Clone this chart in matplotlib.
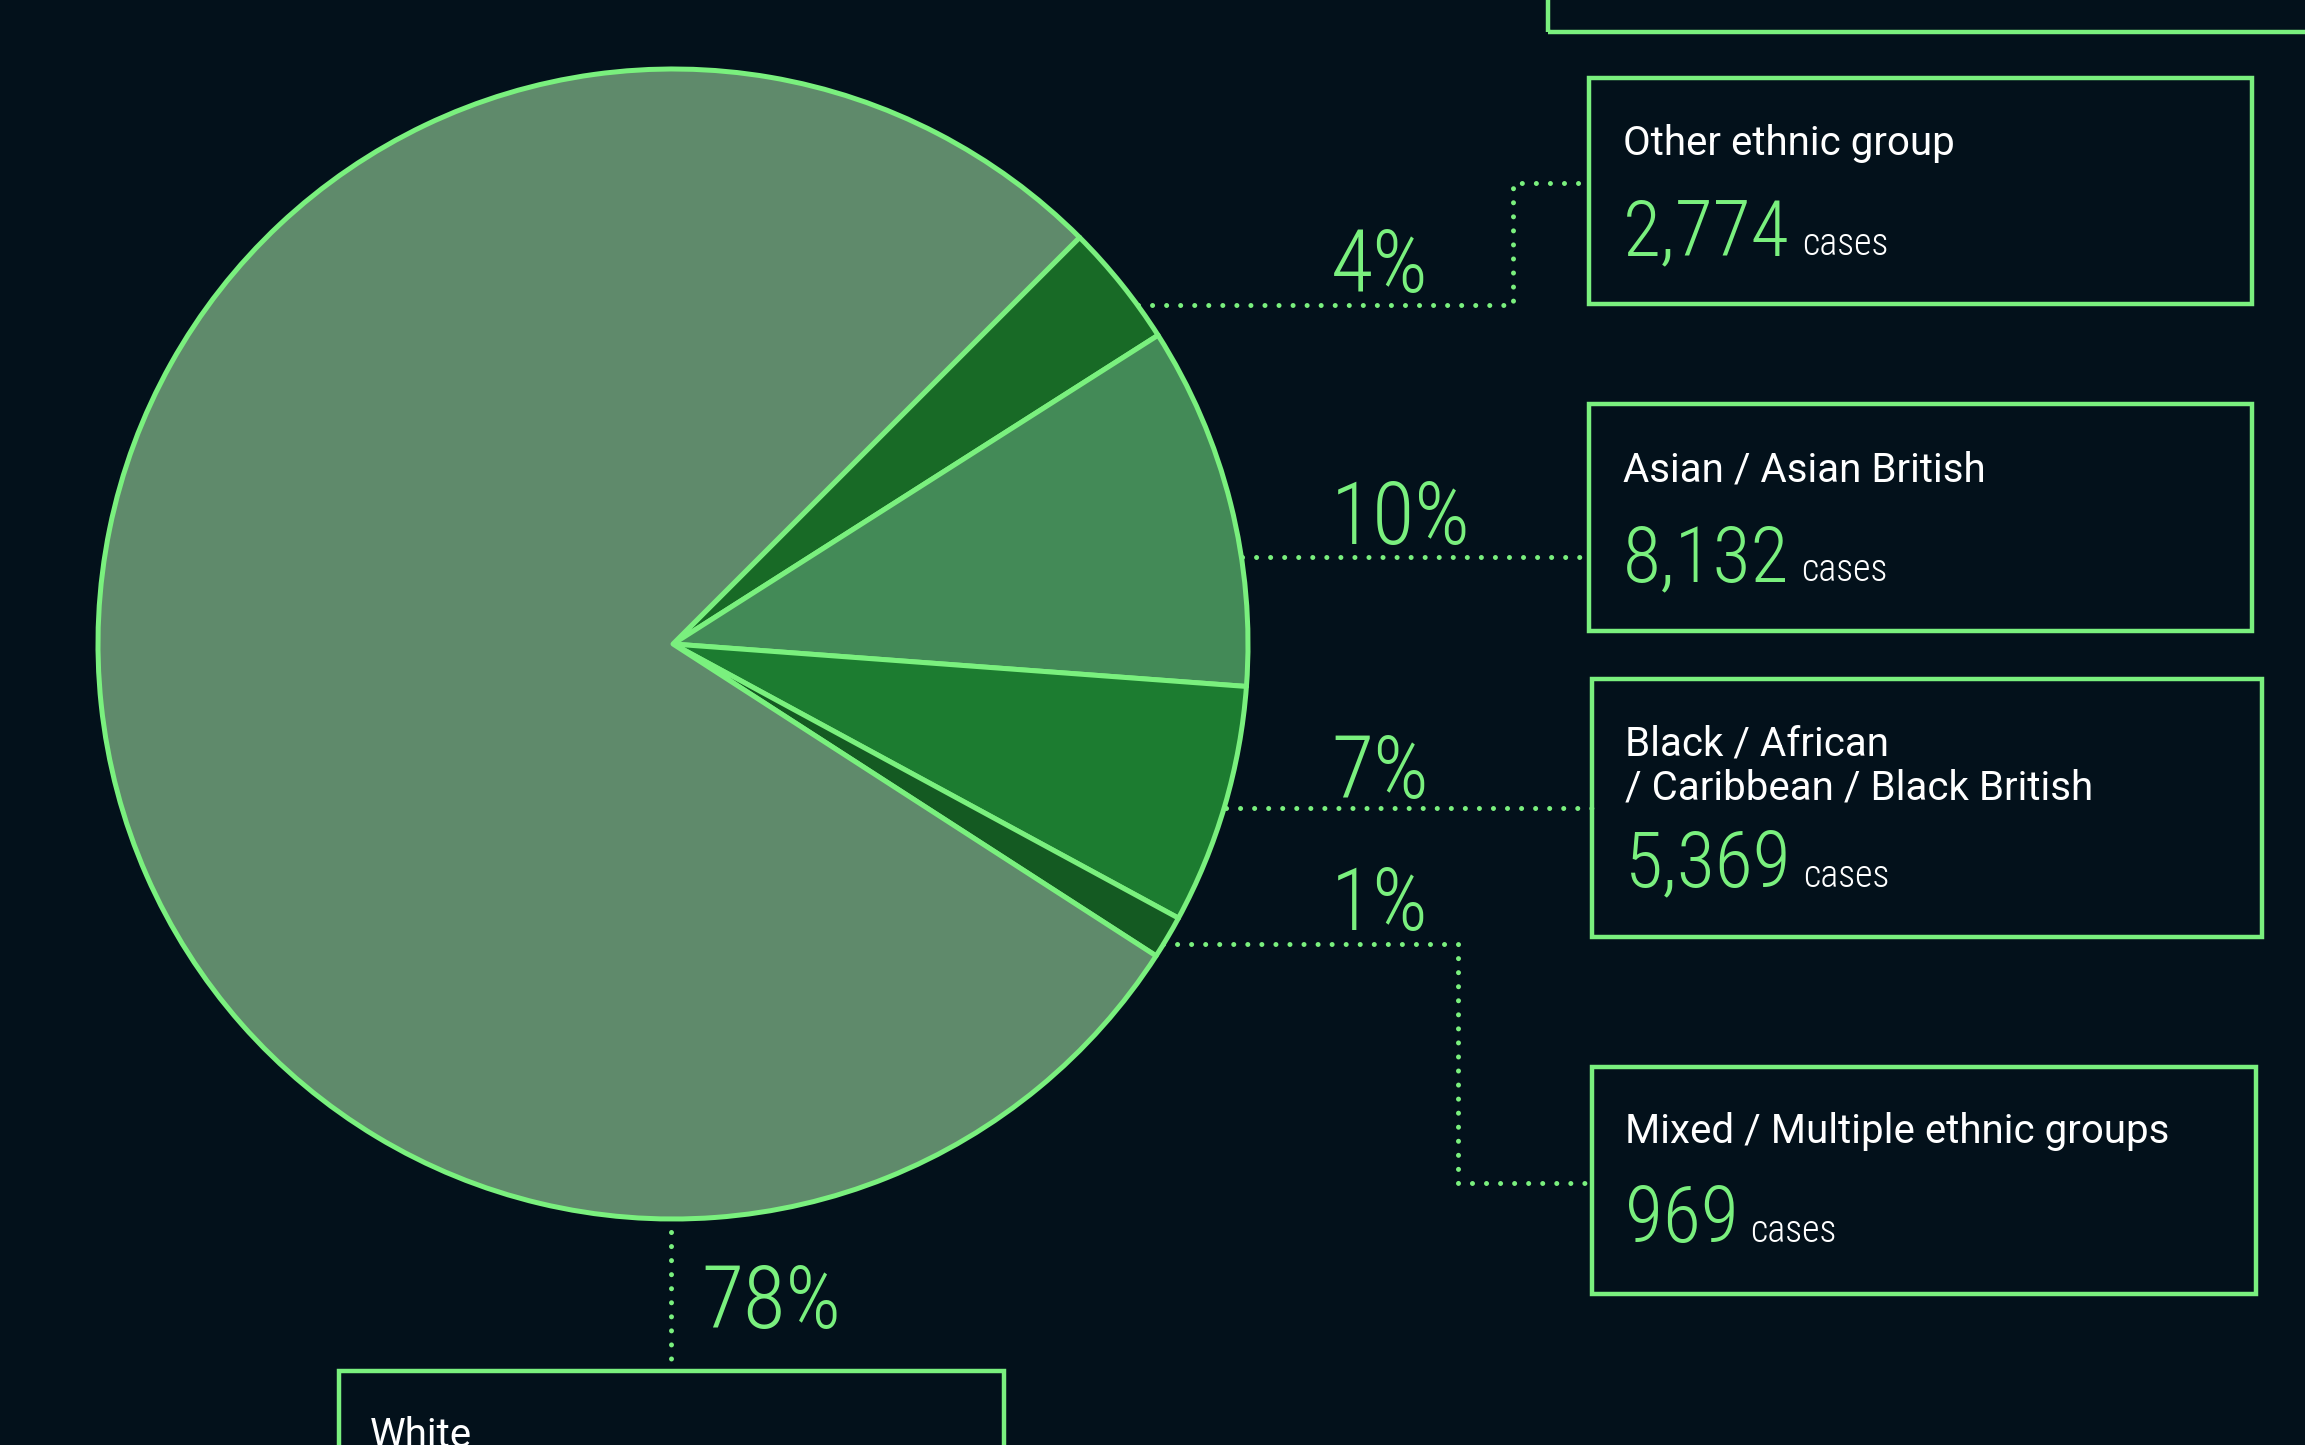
import os
import numpy as np
import matplotlib
matplotlib.use("Agg")
import matplotlib.pyplot as plt
from matplotlib import font_manager as fm
from matplotlib.patches import Rectangle
from matplotlib.textpath import TextPath

W, H = 2305, 1445

# data (clockwise from the top-right)
groups = ["Other ethnic group", "Asian / Asian British",
          "Black / African\n/ Caribbean / Black British",
          "Mixed / Multiple ethnic groups", "White"]
cases = [2774, 8132, 5369, 969, 62500]   # white count is cut off, estimated from the wedge
pct_labels = ["4%", "10%", "7%", "1%", "78%"]
case_labels = ["2,774", "8,132", "5,369", "969"]

bg = "#03111b"
edge = "#7af07e"
wedge_cols = ["#186a26", "#438a57", "#1c7c30", "#145a22", "#5f8a6b"]


def Y(y):
    return H - y


def narrow_font():
    # narrowest light-ish font we can find, else DejaVu condensed, else Roboto
    wanted = ["RobotoCondensed-Light", "Roboto_Condensed-Light", "RobotoCondensed-Regular",
              "Roboto_Condensed-Regular", "OpenSans_Condensed-Light", "OpenSansCondensed-Light",
              "OpenSans_Condensed-Regular", "LiberationSansNarrow-Regular",
              "DejaVuSansCondensed.ttf"]
    files = [f.fname for f in fm.fontManager.ttflist]
    for w in wanted:
        for fn in files:
            if w in os.path.basename(fn):
                return fm.FontProperties(fname=fn)
    return fm.FontProperties(family="Roboto")


nf = narrow_font()
txt_font = "Roboto"


def fit(s, w_px, h_px, prop):
    # font size (pt) halfway between matching width and matching glyph height
    ext = TextPath((0, 0), s, size=100, prop=prop).get_extents()
    sw = 100 * w_px / (ext.width * 100 / 72)
    sh = 100 * h_px / (ext.height * 100 / 72)
    return float(np.sqrt(sw * sh))


fig = plt.figure(figsize=(W / 100, H / 100), dpi=100, facecolor=bg)
ax = fig.add_axes([0, 0, 1, 1])
ax.set_facecolor(bg)

cx, cy, r = 673, 644, 575
ax.pie(cases, colors=wedge_cols, startangle=45, counterclock=False,
       center=(cx, Y(cy)), radius=r,
       wedgeprops=dict(edgecolor=edge, linewidth=3.6, joinstyle="round"))
ax.set_xlim(0, W)
ax.set_ylim(0, H)
ax.set_aspect("auto")
ax.axis("off")

dot = dict(color=edge, lw=3.6, linestyle=(0, (0.01, 2.8)), dash_capstyle="round")

# leader lines (pixel coords of the picture)
ax.plot([1138, 1513, 1513, 1589], [Y(305), Y(305), Y(183), Y(183)], **dot)
ax.plot([1242, 1589], [Y(557), Y(557)], **dot)
ax.plot([1226, 1592], [Y(808), Y(808)], **dot)
ax.plot([1163, 1458, 1458, 1592], [Y(944), Y(944), Y(1183), Y(1183)], **dot)
ax.plot([671, 671], [Y(1232), Y(1371)], **dot)

# boxes
boxes = [(1589, 78, 2252, 304), (1589, 404, 2252, 631),
         (1592, 679, 2262, 937), (1592, 1067, 2256, 1294)]
for x0, y0, x1, y1 in boxes:
    ax.add_patch(Rectangle((x0, Y(y1)), x1 - x0, y1 - y0, fill=False, ec=edge, lw=3.2))
ax.add_patch(Rectangle((1548, Y(32)), W, 100, fill=False, ec=edge, lw=3.2))
ax.add_patch(Rectangle((339, Y(1500)), 1004 - 339, 1500 - 1371, fill=False, ec=edge, lw=3.2))

# percentages
pct_pos = [(1331, 292), (1331, 544), (1331, 798), (1331, 930), (701, 1328)]
pct_size = fit("10%", 140, 58, nf)
for (x, y), s in zip(pct_pos, pct_labels):
    ax.text(x, Y(y), s, color=edge, fontproperties=nf, fontsize=pct_size, va="baseline", ha="left")

# box texts
name_pos = [(1623, 155), (1623, 481), (1625, 755), (1625, 1143)]
num_pos = [(1623, 255), (1623, 581), (1625, 887), (1625, 1242)]
num_size = fit("2,774", 167, 64, nf)
cases_size = fit("cases", 75, 23, nf)
for i in range(4):
    lines = groups[i].split("\n")
    for k, line in enumerate(lines):
        ax.text(name_pos[i][0], Y(name_pos[i][1] + 45 * k), line, color="white",
                family=txt_font, fontsize=29, va="baseline", ha="left")
    t = ax.text(num_pos[i][0], Y(num_pos[i][1]), case_labels[i], color=edge,
                fontproperties=nf, fontsize=num_size, va="baseline", ha="left")
    ax.annotate("cases", xy=(1, Y(num_pos[i][1])), xycoords=(t, "data"),
                xytext=(12, 0), textcoords="offset pixels",
                color="white", fontproperties=nf, fontsize=cases_size, va="baseline", ha="left")

ax.text(370, Y(1447), groups[4], color="white", family=txt_font, fontsize=29,
        va="baseline", ha="left")

fig.savefig("out.png", dpi=100, facecolor=bg)
